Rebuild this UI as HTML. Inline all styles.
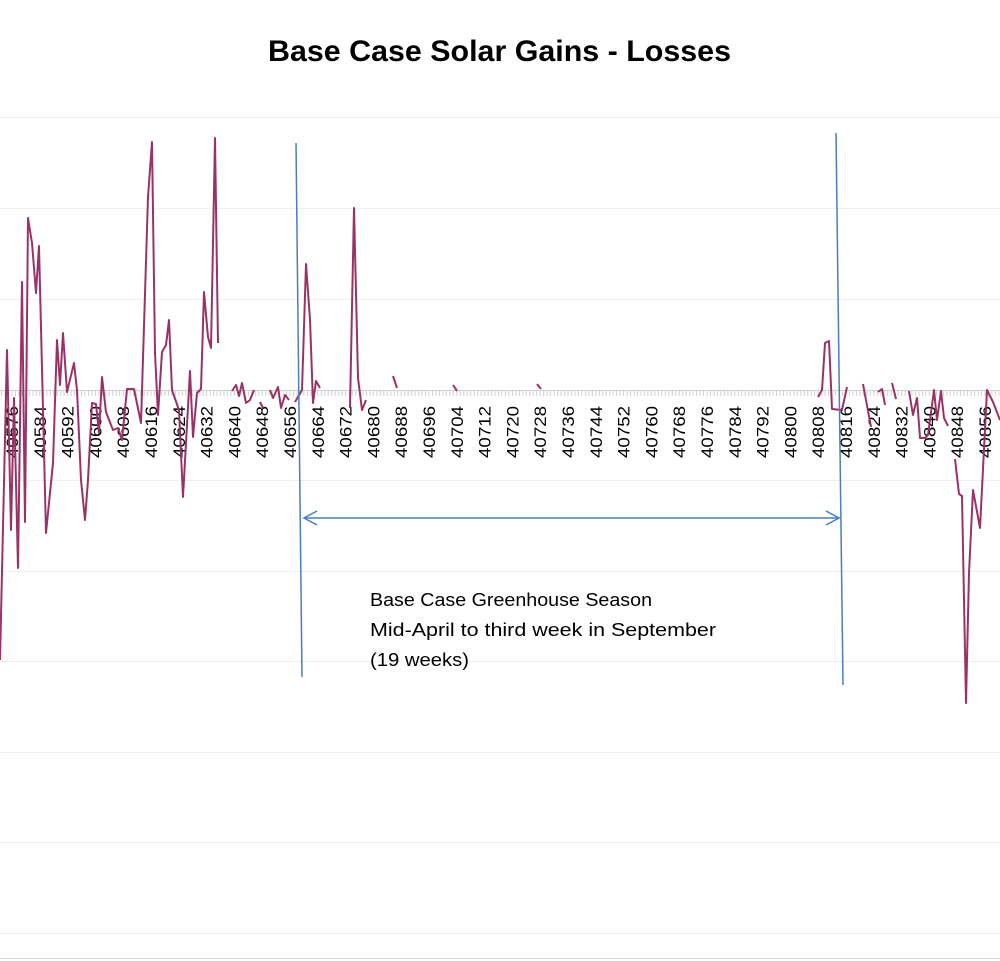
<!DOCTYPE html>
<html><head><meta charset="utf-8"><style>
html,body{margin:0;padding:0;background:#fff;}
svg{display:block;font-family:"Liberation Sans",sans-serif;}
</style></head><body>
<svg width="1000" height="961" viewBox="0 0 1000 961">
<g stroke="#efefef" stroke-width="1">
<line x1="0" y1="117.5" x2="1000" y2="117.5"/>
<line x1="0" y1="208.5" x2="1000" y2="208.5"/>
<line x1="0" y1="299.5" x2="1000" y2="299.5"/>
<line x1="0" y1="480.5" x2="1000" y2="480.5"/>
<line x1="0" y1="571.5" x2="1000" y2="571.5"/>
<line x1="0" y1="661.5" x2="1000" y2="661.5"/>
<line x1="0" y1="752.5" x2="1000" y2="752.5"/>
<line x1="0" y1="842.5" x2="1000" y2="842.5"/>
<line x1="0" y1="933.5" x2="1000" y2="933.5"/>
</g>
<line x1="0" y1="958.5" x2="1000" y2="958.5" stroke="#d9d9d9"/>
<text x="268" y="61" textLength="463" lengthAdjust="spacingAndGlyphs" font-size="30" font-weight="bold" fill="#000">Base Case Solar Gains - Losses</text>
<line x1="0" y1="390.5" x2="1000" y2="390.5" stroke="#d0d0d0"/>
<path id="ticks" stroke="#d0d0d0" stroke-width="1" fill="none" d=""/>
<g id="lbl" font-size="17" fill="#000"></g>
<g fill="none" stroke="#993366" stroke-width="2" stroke-linejoin="round">
<polyline points="0,660 7,350 11,530 14,398 18,568 22,282 25,522 28,218 32,243 36,293 39,246 46,533 53,463 57,340 60,385 63,333 67,392 74,363 77,390 81,480 85,520 88,480 92,403 96,404 99,433 102,377 106,412 113,430 118,428 122,440 127,389 134,389 141,423 148,197 152,142 155,353 158,415 162,352 166,345 169,320 172,390 179,410 183,497 190,371 193,437 197,393 201,389 204,292 208,337 211,348 215,138 218,343"/>
<polyline points="232,391 236,385 239,396 242,383 246,403 250,400 254,390"/>
<polyline points="260,402 263,408"/>
<polyline points="270,390 273,398 278,387 281,408 285,395 289,400"/>
<polyline points="295,402 302,390 306,264 310,320 313,403 316,381 320,388"/>
<polyline points="350,408 354,208 358,378 362,410 366,400"/>
<polyline points="393,376 397,388"/>
<polyline points="453,385 457,391"/>
<polyline points="537,384 541,389"/>
<polyline points="818,397 822,390 825,343 829,341 832,409 842,410 847,387"/>
<polyline points="863,384 871,427"/>
<polyline points="878,392 882,389 885,405"/>
<polyline points="892,383 896,399"/>
<polyline points="909,391 913,415 917,398 920,438 925,438 928,435 934,390 937,420 941,391 944,418 948,426"/>
<polyline points="955,459 959,494 962,496 966,703 969,573 973,490 980,528 987,390 993,402 1000,420"/>
</g>
<g stroke="#4a7ebf" stroke-width="1.5" fill="none">
<line x1="296" y1="143" x2="302" y2="677"/>
<line x1="836" y1="133" x2="843" y2="685"/>
<line x1="304" y1="518" x2="838" y2="518"/>
<polyline points="317,511 304,518 317,525"/>
<polyline points="826,511 839,518 826,525"/>
</g>
<g font-size="18" fill="#000" lengthAdjust="spacingAndGlyphs">
<text x="370" y="606" textLength="282" lengthAdjust="spacingAndGlyphs">Base Case Greenhouse Season</text>
<text x="370" y="636" textLength="346" lengthAdjust="spacingAndGlyphs">Mid-April to third week in September</text>
<text x="370" y="666" textLength="99" lengthAdjust="spacingAndGlyphs">(19 weeks)</text>
</g>
<script>
var lb=document.getElementById('lbl'),ns='http://www.w3.org/2000/svg';
var s='';
for(var v=40572;v<=40860;v++){var x=12+(v-40576)*3.475;if(x<0||x>1000)continue;s+='M'+x.toFixed(1)+' 391V396';}
document.getElementById('ticks').setAttribute('d',s);
for(var v=40576;v<=40856;v+=8){var x=12+(v-40576)*3.475;var t=document.createElementNS(ns,'text');
t.setAttribute('transform','translate('+(x+6).toFixed(1)+',406) rotate(-90)');t.setAttribute('text-anchor','end');
t.setAttribute('textLength','52');t.setAttribute('lengthAdjust','spacingAndGlyphs');t.textContent=v;lb.appendChild(t);}
</script>
</svg>
</body></html>
